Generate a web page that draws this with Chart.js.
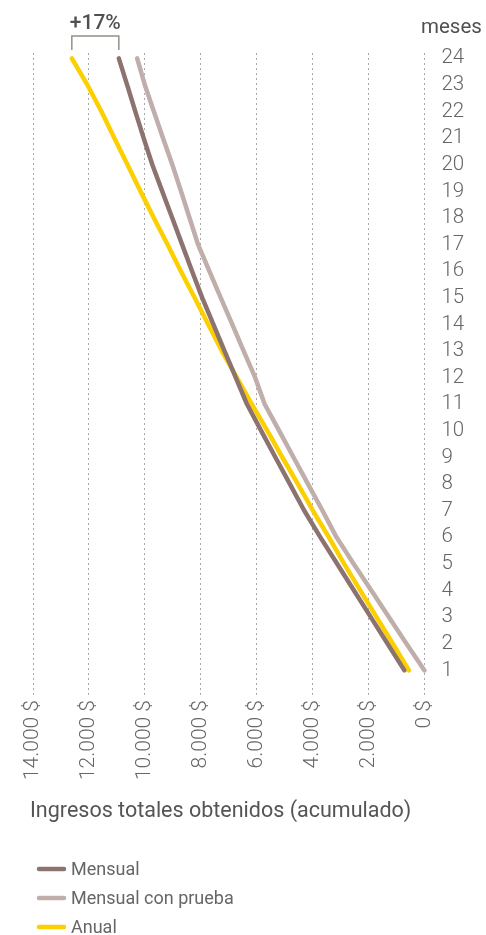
<!DOCTYPE html>
<html lang="es">
<head>
<meta charset="utf-8">
<title>Ingresos acumulados</title>
<script src="https://cdn.jsdelivr.net/npm/chart.js@4/dist/chart.umd.min.js"></script>
<style>
    html, body { margin: 0; padding: 0; background: #fff; }
    #wrap { position: relative; width: 486px; height: 935px; }
</style>
</head>
<body>
<div id="wrap"><canvas id="ingresosChart"></canvas></div>
<script>
// Data (cumulative revenue, $)
const months = [1, 2, 3, 4, 5, 6, 7, 8, 9, 10, 11, 12, 13, 14, 15, 16, 17, 18, 19, 20, 21, 22, 23, 24];
const mensual = [719, 1320, 1921, 2522, 3120, 3721, 4297, 4812, 5328, 5839, 6347, 6748,
                 7149, 7550, 7947, 8312, 8666, 9020, 9378, 9732, 10043, 10340, 10634, 10931];
const mensualPrueba = [0, 644, 1270, 1900, 2530, 3145, 3646, 4165, 4680, 5195, 5714, 6054,
                       6465, 6873, 7285, 7693, 8097, 8401, 8705, 9017, 9349, 9678, 10000, 10276];
const anual = [555, 1134, 1714, 2293, 2873, 3417, 3989, 4526, 5081, 5617, 6172, 6709,
               7245, 7732, 8219, 8712, 9188, 9678, 10154, 10620, 11088, 11553, 12054, 12612];
const seriesLabels = ['Mensual', 'Mensual con prueba', 'Anual'];
const xTicks = [0, 2000, 4000, 6000, 8000, 10000, 12000, 14000];

const COLORS = {
    mensual: '#8c7370',
    prueba: '#bfaeaa',
    anual: '#fccf00',
    text: '#666',
    dark: '#505050',
    grid: '#a8a8a8',
    bracket: '#8f9387'
};
const FONT = 'Roboto';

function fmtMoney(v) {
    return String(v).replace(/\B(?=(\d{3})+(?!\d))/g, '.') + ' $';
}

function toPoints(values) {
    return values.map((v, i) => ({ x: v, y: months[i] }));
}

// "meses", +17% bracket, axis title and legend
const extras = {
    id: 'extras',
    afterDraw(chart) {
        const ctx = chart.ctx;
        const xs = chart.scales.x;
        ctx.save();

        ctx.fillStyle = COLORS.dark;
        ctx.font = `400 20.5px ${FONT}`;
        ctx.textAlign = 'left';
        ctx.textBaseline = 'alphabetic';
        ctx.fillText('meses', 421, 33);

        // bracket between the two 24-month ends
        const last = months.length - 1;
        const xa = xs.getPixelForValue(anual[last]);
        const xm = xs.getPixelForValue(mensual[last]);
        ctx.strokeStyle = COLORS.bracket;
        ctx.lineWidth = 1.5;
        ctx.beginPath();
        ctx.moveTo(xa, 50);
        ctx.lineTo(xa, 36);
        ctx.lineTo(xm, 36);
        ctx.lineTo(xm, 50);
        ctx.stroke();
        ctx.font = `500 21px ${FONT}`;
        ctx.textAlign = 'center';
        ctx.fillStyle = COLORS.dark;
        ctx.fillText('+17%', (xa + xm) / 2, 29);

        ctx.font = `400 21.5px ${FONT}`;
        ctx.textAlign = 'left';
        ctx.fillStyle = '#555';
        ctx.fillText('Ingresos totales obtenidos (acumulado)', 30, 817);

        // legend
        ctx.font = `400 18px ${FONT}`;
        ctx.textBaseline = 'middle';
        chart.data.datasets.forEach((ds, i) => {
            const y = 869 + i * 29;
            ctx.strokeStyle = ds.borderColor;
            ctx.lineWidth = 4.5;
            ctx.lineCap = 'round';
            ctx.beginPath();
            ctx.moveTo(39, y);
            ctx.lineTo(64, y);
            ctx.stroke();
            ctx.fillStyle = COLORS.text;
            ctx.fillText(ds.label, 71, y + 1);
        });
        ctx.restore();
    }
};

function makeDataset(label, values, color) {
    return {
        label: label,
        data: toPoints(values),
        borderColor: color,
        backgroundColor: color,
        borderWidth: 4.5,
        borderCapStyle: 'round',
        borderJoinStyle: 'round',
        pointRadius: 0,
        tension: 0,
        fill: false
    };
}

const chart = new Chart(document.getElementById('ingresosChart'), {
    type: 'line',
    data: {
        datasets: [
            makeDataset(seriesLabels[0], mensual, COLORS.mensual),
            makeDataset(seriesLabels[1], mensualPrueba, COLORS.prueba),
            makeDataset(seriesLabels[2], anual, COLORS.anual)
        ]
    },
    options: {
        responsive: true,
        maintainAspectRatio: false,
        animation: false,
        clip: false,
        layout: { padding: { top: 53, left: 33, right: 0, bottom: 0 } },
        plugins: {
            legend: { display: false },
            tooltip: { enabled: false }
        },
        scales: {
            x: {
                type: 'linear',
                reverse: true,
                min: 0,
                max: 14000,
                afterBuildTicks: (scale) => { scale.ticks = xTicks.map(v => ({ value: v })); },
                afterFit: (scale) => { scale.height = 935 - 697; },
                grid: {
                    color: COLORS.grid,
                    lineWidth: 1,
                    drawTicks: false
                },
                border: { display: false, dash: [2, 3] },
                ticks: {
                    minRotation: 90,
                    maxRotation: 90,
                    padding: 3,
                    color: COLORS.text,
                    font: { family: FONT, size: 21, weight: '300' },
                    callback: (v) => fmtMoney(v)
                }
            },
            y: {
                type: 'linear',
                position: 'right',
                min: 0,
                max: 24.2,
                afterBuildTicks: (scale) => { scale.ticks = months.map(m => ({ value: m })); },
                afterFit: (scale) => { scale.width = 61.5; },
                grid: { display: false, drawTicks: false },
                border: { display: false },
                ticks: {
                    padding: 17,
                    color: COLORS.text,
                    font: { family: FONT, size: 20.5, weight: '300' },
                    callback: (v) => String(v)
                }
            }
        }
    },
    plugins: [extras]
});
</script>
</body>
</html>
